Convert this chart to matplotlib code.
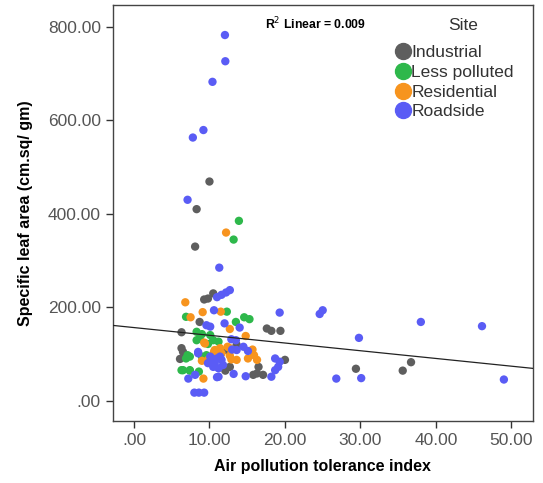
import numpy as np
import matplotlib.pyplot as plt
from matplotlib.lines import Line2D

plt.rcParams.update({
    'font.family': ['Liberation Sans', 'DejaVu Sans'],
    'font.size': 12,
})

# ── Data ────────────────────────────────────────────────────────────────
sites = ['Industrial', 'Less polluted', 'Residential', 'Roadside']
site_colors = ['#5e5e5e', '#2eb84b', '#f7941e', '#5a5cf5']

ind_x = [10.0, 8.3, 8.1, 10.5, 9.8, 9.3, 8.7, 17.6, 18.2, 19.4, 6.3, 13.6, 6.3, 6.5,
         6.1, 12.3, 16.5, 20.0, 16.3, 17.1, 15.8, 12.1, 12.7, 29.4, 36.7, 35.6]
ind_y = [469, 410, 330, 230, 219, 217, 169, 155, 150, 150, 147, 120, 113, 105,
         90, 109, 73, 88, 59, 56, 56, 65, 73, 69, 83, 65]

less_x = [13.9, 13.2, 12.3, 6.9, 13.5, 14.6, 15.3, 8.3, 9.0, 10.1, 8.3, 8.7, 10.5,
          11.2, 9.8, 7.1, 7.4, 6.9, 6.5, 7.4, 8.6, 9.0, 9.6, 6.3, 7.4]
less_y = [385, 345, 191, 180, 169, 179, 175, 148, 143, 141, 130, 134, 130,
          127, 122, 98, 95, 91, 66, 65, 63, 95, 98, 66, 66]

res_x = [12.2, 6.8, 9.1, 11.5, 7.5, 12.7, 14.8, 9.3, 12.4, 15.7, 10.6, 11.6, 12.7,
         12.9, 15.1, 15.9, 16.3, 9.2, 9.0, 9.8, 11.4, 9.4, 10.7, 13.6, 12.7]
res_y = [360, 211, 190, 191, 179, 154, 139, 125, 116, 110, 105, 102, 97,
         89, 91, 98, 88, 48, 86, 88, 113, 123, 109, 88, 113]

road_x = [12.05, 12.1, 10.4, 9.2, 7.8, 7.1, 11.3, 12.7, 12.2, 11.6, 11.0, 10.6,
          12.0, 9.6, 10.1, 19.3, 14.0, 12.9, 13.5, 13.0, 8.5, 10.1, 10.5, 11.0,
          11.4, 15.1, 18.7, 19.3, 19.1, 18.7, 18.2, 14.8, 13.2, 11.0, 7.2, 8.1,
          8.0, 8.6, 9.3, 9.8, 10.5, 11.2, 11.8, 8.5, 10.3, 10.7, 10.1, 11.6,
          11.2, 13.6, 14.5, 24.6, 25.0, 38.0, 46.1, 29.8, 26.8, 30.1, 49.0]
road_y = [782, 726, 682, 579, 563, 430, 285, 237, 232, 227, 222, 194,
          166, 162, 159, 189, 157, 132, 130, 110, 105, 95, 88, 91,
          95, 107, 91, 84, 73, 66, 52, 53, 58, 51, 48, 56,
          18, 18, 18, 81, 73, 70, 77, 102, 91, 81, 84, 88,
          52, 109, 116, 186, 194, 169, 160, 135, 48, 49, 46]

# linear fit shown on the chart (R2 = 0.009)
fit_intercept = 157.0
fit_slope = -1.65
r2_text = 'R$^2$ Linear = 0.009'

x_ticks = [0, 10, 20, 30, 40, 50]
y_ticks = [0, 200, 400, 600, 800]

# ── Plot ────────────────────────────────────────────────────────────────
fig = plt.figure(figsize=(5.43, 4.83), dpi=100)
ax = fig.add_axes([0.2075, 0.1275, 0.774, 0.862])

series = [(ind_x, ind_y), (less_x, less_y), (res_x, res_y), (road_x, road_y)]
for (xs, ys), c in zip(series, site_colors):
    ax.scatter(xs, ys, s=36, color=c, edgecolors='none', zorder=3)

ax.set_xlim(-2.82, 52.85)
ax.set_ylim(-43.5, 846)
xx = np.array(ax.get_xlim())
ax.plot(xx, fit_intercept + fit_slope * xx, color='#222222', lw=0.9, zorder=4)

ax.set_xticks(x_ticks)
ax.set_xticklabels(['.00' if v == 0 else f'{v:.2f}' for v in x_ticks])
ax.set_yticks(y_ticks)
ax.set_yticklabels(['.00' if v == 0 else f'{v:.2f}' for v in y_ticks])
ax.tick_params(direction='out', length=5, width=1, color='#333333',
               labelcolor='#555555', labelsize=12.5)
for sp in ax.spines.values():
    sp.set_color('#444444')
    sp.set_linewidth(1.0)

ax.set_xlabel('Air pollution tolerance index', fontsize=11.5, fontweight='bold',
              labelpad=8)
ax.set_ylabel('Specific leaf area (cm.sq/ gm)', fontsize=11.5, fontweight='bold',
              labelpad=11)

ax.text(0.362, 0.954, r2_text, transform=ax.transAxes, fontsize=8.8,
        fontweight='bold', va='center', ha='left')

# legend: title placed separately to get the wider gap
ax.text(0.835, 0.951, 'Site', transform=ax.transAxes, fontsize=12.5,
        color='#333333', ha='center', va='center')
handles = [Line2D([], [], marker='o', ls='none', color=c, markersize=11.5)
           for c in site_colors]
leg = ax.legend(handles, sites, loc='upper left',
                bbox_to_anchor=(0.636, 0.933), frameon=False, fontsize=12.5,
                handletextpad=-0.1, labelspacing=0.26,
                borderpad=0.2, handlelength=1.2)
for t in leg.get_texts():
    t.set_color('#333333')

fig.savefig('out.png', dpi=100)
